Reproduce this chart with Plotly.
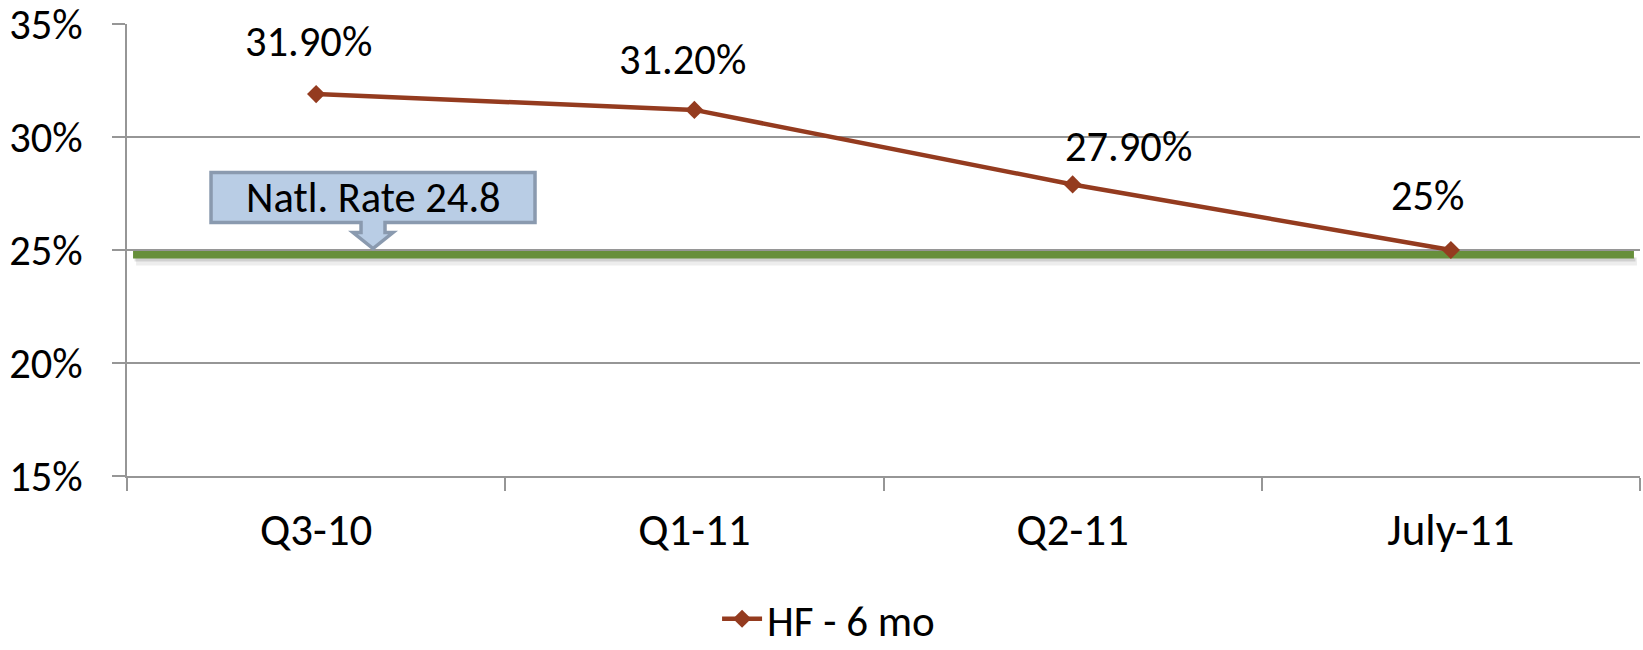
import plotly.graph_objects as go

# Data
periods = ["Q3-10", "Q1-11", "Q2-11", "July-11"]
hf_6mo = [31.9, 31.2, 27.9, 25.0]
natl_rate = 24.8
series_name = "HF - 6 mo"

# Styling
FONT = "Carlito, Lato, sans-serif"
FS_LABEL = 42.5
FS_YTICK = 42.5
FS_XTICK = 45
FS_LEGEND = 43
LINE_COLOR = "#943B1F"
GREEN = "#678F3B"
GRID = "#969696"

# Pixel offsets of each value label from its point (x right, y up)
label_offsets = [(-8, 53), (-12, 50), (56, 38), (-23, 55)]


def fmt_pct(v):
    return f"{v:.0f}%" if float(v).is_integer() else f"{v:.2f}%"


fig = go.Figure()

fig.add_trace(go.Scatter(
    x=periods, y=hf_6mo, name=series_name, mode="lines+markers",
    line=dict(color=LINE_COLOR, width=4.5),
    marker=dict(symbol="diamond", size=14, color=LINE_COLOR),
    cliponaxis=False,
))

# Value labels
for p, v, (dx, dy) in zip(periods, hf_6mo, label_offsets):
    fig.add_annotation(
        x=p, y=v, text=fmt_pct(v), showarrow=False, xanchor="center",
        yanchor="middle", xshift=dx, yshift=dy,
        font=dict(family=FONT, size=FS_LABEL, color="black"),
    )

# National rate reference line with a soft shadow underneath
shapes = [
    dict(type="rect", xref="paper", x0=0.006, x1=0.998, yref="y",
         ysizemode="pixel", yanchor=natl_rate, y0=-3, y1=-11,
         fillcolor="rgba(0,0,0,0.07)", line=dict(width=0), layer="between"),
    dict(type="rect", xref="paper", x0=0.005, x1=0.997, yref="y",
         ysizemode="pixel", yanchor=natl_rate, y0=-3, y1=-7,
         fillcolor="rgba(0,0,0,0.12)", line=dict(width=0), layer="between"),
    dict(type="line", xref="paper", x0=0.004, x1=0.996, yref="y",
         y0=natl_rate, y1=natl_rate, line=dict(color=GREEN, width=8),
         layer="between"),
]

# Callout box with a down arrow pointing to the national rate line
callout_x = 0.1626
callout_path = (
    "M -162,82 L 162,82 L 162,32 L 12,32 L 12,22 L 20,22 L 0,6 "
    "L -20,22 L -12,22 L -12,32 L -162,32 Z"
)
shapes.append(dict(
    type="path", xref="paper", xsizemode="pixel", xanchor=callout_x,
    yref="y", ysizemode="pixel", yanchor=natl_rate, path=callout_path,
    fillcolor="#B9CDE5", line=dict(color="#8A9AAF", width=3.5),
))
fig.add_annotation(
    xref="paper", x=callout_x, y=natl_rate, yshift=57, showarrow=False,
    xanchor="center", yanchor="middle",
    text=f"Natl. Rate {natl_rate}",
    font=dict(family=FONT, size=FS_LABEL, color="black"),
)

fig.update_layout(
    width=1643, height=650,
    margin=dict(l=127, r=3, t=24, b=174, autoexpand=False),
    paper_bgcolor="white", plot_bgcolor="white",
    font=dict(family=FONT, color="black"),
    shapes=shapes,
    showlegend=True,
    legend=dict(
        orientation="h", x=0.39, xanchor="left",
        yref="container", y=0.048, yanchor="middle",
        font=dict(family=FONT, size=FS_LEGEND), itemwidth=40,
    ),
    xaxis=dict(
        type="category", tickson="boundaries", ticks="outside", ticklen=13,
        tickcolor=GRID, tickwidth=1.5, showline=True, linecolor=GRID,
        linewidth=1.5, showgrid=False, tickfont=dict(family=FONT, size=FS_XTICK),
        ticklabelstandoff=13, range=[-0.5, 3.5], automargin=False,
        ticklabeloverflow="allow",
    ),
    yaxis=dict(
        range=[15, 35], dtick=5, ticksuffix="%", ticks="outside", ticklen=13,
        tickcolor=GRID, tickwidth=1.5, showline=True, linecolor=GRID,
        linewidth=1.5, showgrid=True, gridcolor=GRID, gridwidth=1.5,
        zeroline=False, tickfont=dict(family=FONT, size=FS_YTICK),
        ticklabelstandoff=21, automargin=False, ticklabeloverflow="allow",
    ),
)

fig.write_html("out.html")
